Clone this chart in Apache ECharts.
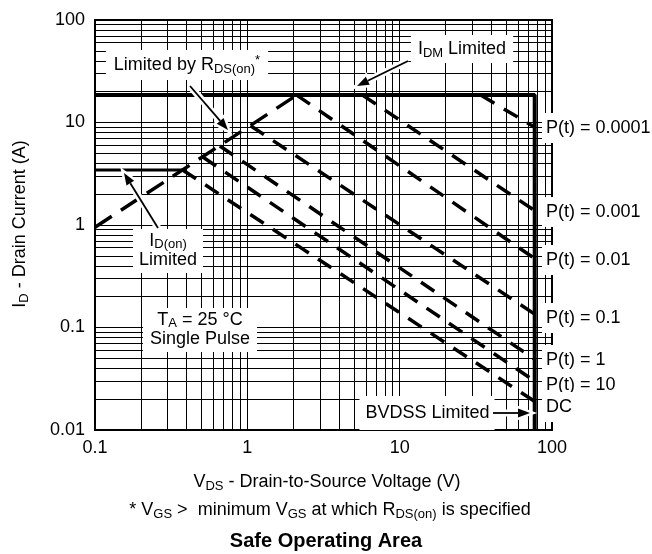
<!DOCTYPE html>
<html><head><meta charset="utf-8">
<script src="https://cdn.jsdelivr.net/npm/echarts@6/dist/echarts.min.js"></script>
<style>html,body{margin:0;padding:0;background:#fff}#c{width:652px;height:554px}</style>
</head><body><div id="c"></div>
<script>
// ---- data ----
const xTicks = [0.1, 1, 10, 100];
const yTicks = [0.01, 0.1, 1, 10, 100];
const xMinor = [0.2,0.3,0.4,0.5,0.6,0.7,0.8,0.9, 2,3,4,5,6,7,8,9, 20,30,40,50,60,70,80,90];
const yMinor = [0.02,0.03,0.04,0.05,0.06,0.07,0.08,0.09, 0.2,0.3,0.4,0.5,0.6,0.7,0.8,0.9, 2,3,4,5,6,7,8,9, 20,30,40,50,60,70,80,90];
const rdsLimit  = [[0.1, 0.95], [2.11, 18.5]];
const idmLimit  = [[0.1, 18.5], [77, 18.5], [77, 0.01]];
const idonLimit = [[0.1, 3.44], [0.376, 3.44]];
const pulseNames = ['P(t) = 0.0001','P(t) = 0.001','P(t) = 0.01','P(t) = 0.1','P(t) = 1','P(t) = 10','DC'];
const pulseStart = [[34, 18.5], [5.7, 18.5], [2.11, 18.5], [1.05, 9.3], [0.66, 5.9], [0.51, 4.6], [0.376, 3.44]];
const pulseEnd   = [[77, 9.0], [77, 1.38], [77, 0.47], [77, 0.135], [77, 0.049], [77, 0.030], [77, 0.019]];

// ---- chart ----
const F = '"Liberation Sans", Arial, Helvetica, sans-serif';
const chart = echarts.init(document.getElementById('c'), null, {renderer: 'canvas'});
const fmt = v => String(parseFloat(Number(v).toPrecision(3)));

const R = {
  m: {fontSize: 18, fontFamily: F, lineHeight: 22, verticalAlign: 'middle', color: '#000'},
  m2: {fontSize: 18, fontFamily: F, lineHeight: 19, verticalAlign: 'middle', color: '#000'},
  s: {fontSize: 13, fontFamily: F, lineHeight: 8, verticalAlign: 'bottom', color: '#000'},
  p: {fontSize: 13, fontFamily: F, lineHeight: 9, verticalAlign: 'top', color: '#000'},
  b: {fontSize: 20, fontFamily: F, fontWeight: 'bold', lineHeight: 24, color: '#000'}
};
function T(x, y, text, extra) {
  return Object.assign({
    type: 'text', x: x, y: y, z: 100,
    style: Object.assign({
      text: text, rich: R, fill: '#000', font: '18px ' + F,
      align: 'center', verticalAlign: 'middle', textAlign: 'center', textVerticalAlign: 'middle'
    }, extra || {})
  });
}
function arrow(x1, y1, x2, y2) {
  const a = Math.atan2(y2 - y1, x2 - x1), L = 12, W = 4.5;
  const bx = x2 - L * Math.cos(a), by = y2 - L * Math.sin(a);
  const px = -Math.sin(a) * W, py = Math.cos(a) * W;
  const pts = [[x2, y2], [bx + px, by + py], [bx - px, by - py]];
  return [
    {type: 'line', z: 101, shape: {x1: x1, y1: y1, x2: bx, y2: by}, style: {stroke: '#fff', lineWidth: 7}},
    {type: 'polygon', z: 101, shape: {points: pts}, style: {fill: '#fff', stroke: '#fff', lineWidth: 5}},
    {type: 'line', z: 102, shape: {x1: x1, y1: y1, x2: bx, y2: by}, style: {stroke: '#000', lineWidth: 1.8}},
    {type: 'polygon', z: 102, shape: {points: pts}, style: {fill: '#000'}}
  ];
}

const gridSeries = [
  {
    type: 'lines', coordinateSystem: 'cartesian2d', silent: true, z: 1, animation: false,
    lineStyle: {color: '#000', width: 1, opacity: 1, curveness: 0},
    data: xMinor.map(v => ({coords: [[v, yTicks[0]], [v, yTicks[yTicks.length - 1]]]}))
  },
  {
    type: 'lines', coordinateSystem: 'cartesian2d', silent: true, z: 1, animation: false,
    lineStyle: {color: '#000', width: 1, opacity: 1, curveness: 0},
    data: yMinor.map(v => ({coords: [[xTicks[0], v], [xTicks[xTicks.length - 1], v]]}))
  }
];
const limitSeries = [
  {type: 'line', data: rdsLimit, symbol: 'none', z: 5, lineStyle: {color: '#000', width: 3.5, type: [20, 11], cap: 'butt'}},
  {type: 'line', data: idmLimit, symbol: 'none', z: 6, lineStyle: {color: '#000', width: 4}},
  {type: 'line', data: idonLimit, symbol: 'none', z: 6, lineStyle: {color: '#000', width: 3.2}}
];
const pulseSeries = pulseNames.map((n, i) => ({
  type: 'line', name: n, data: [pulseStart[i], pulseEnd[i]], symbol: 'none', z: 5,
  lineStyle: {color: '#000', width: 3.5, type: [16, 11], cap: 'butt'}
}));

const pulseLabelY = [128, 212, 260, 318, 360, 385, 407];
const graphics = [];
pulseNames.forEach((n, i) => {
  graphics.push(T(542, pulseLabelY[i], '{m|' + n + '}', {align: 'left', textAlign: 'left', backgroundColor: '#fff', padding: [4, 2, 4, 4]}));
});
graphics.push(T(187, 65, '{m|Limited by R}{s|DS(on)}{p|*}', {backgroundColor: '#fff', padding: [4, 8, 4, 8]}));
graphics.push(T(462, 49, '{m|I}{s|DM}{m| Limited}', {backgroundColor: '#fff', padding: [3, 7, 3, 7]}));
graphics.push(T(168, 251, '{m2|I}{s|D(on)}\n{m2|Limited}', {backgroundColor: '#fff', padding: [3, 6, 3, 6]}));
graphics.push(T(200, 330, '{m2|T}{s|A}{m2| = 25 °C}\n{m2|Single Pulse}', {backgroundColor: '#fff', padding: [3, 7, 3, 7]}));
graphics.push(T(427, 413, '{m|BVDSS Limited}', {backgroundColor: '#fff', padding: [6, 5, 6, 6]}));
graphics.push(...arrow(190, 86, 228, 130));
graphics.push(...arrow(408, 61, 357, 86));
graphics.push(...arrow(158, 228, 124, 173));
graphics.push(...arrow(493, 413, 530, 413));
graphics.push(Object.assign(T(20, 224, '{m|I}{s|D}{m| - Drain Current (A)}'), {rotation: Math.PI / 2}));
graphics.push(T(327, 482, '{m|V}{s|DS}{m| - Drain-to-Source Voltage (V)}'));
graphics.push(T(330, 510, '{m|* V}{s|GS}{m| >  minimum V}{s|GS}{m| at which R}{s|DS(on)}{m| is specified}'));
graphics.push(T(326, 541, '{b|Safe Operating Area}'));

chart.setOption({
  animation: false,
  backgroundColor: '#fff',
  grid: {left: 95, top: 20, width: 457, height: 410, show: true, borderColor: '#000', borderWidth: 2, backgroundColor: 'rgba(0,0,0,0)'},
  xAxis: {
    type: 'log', logBase: 10, min: xTicks[0], max: xTicks[xTicks.length - 1],
    axisLine: {show: true, onZero: false, lineStyle: {color: '#000', width: 2}},
    axisTick: {show: false},
    splitLine: {show: true, lineStyle: {color: '#000', width: 1}},
    axisLabel: {color: '#000', fontSize: 18, fontFamily: F, margin: 9, formatter: fmt}
  },
  yAxis: {
    type: 'log', logBase: 10, min: yTicks[0], max: yTicks[yTicks.length - 1],
    axisLine: {show: true, onZero: false, lineStyle: {color: '#000', width: 2}},
    axisTick: {show: false},
    splitLine: {show: true, lineStyle: {color: '#000', width: 1}},
    axisLabel: {color: '#000', fontSize: 18, fontFamily: F, margin: 10, formatter: fmt}
  },
  series: gridSeries.concat(limitSeries, pulseSeries),
  graphic: graphics
});
</script>
</body></html>
